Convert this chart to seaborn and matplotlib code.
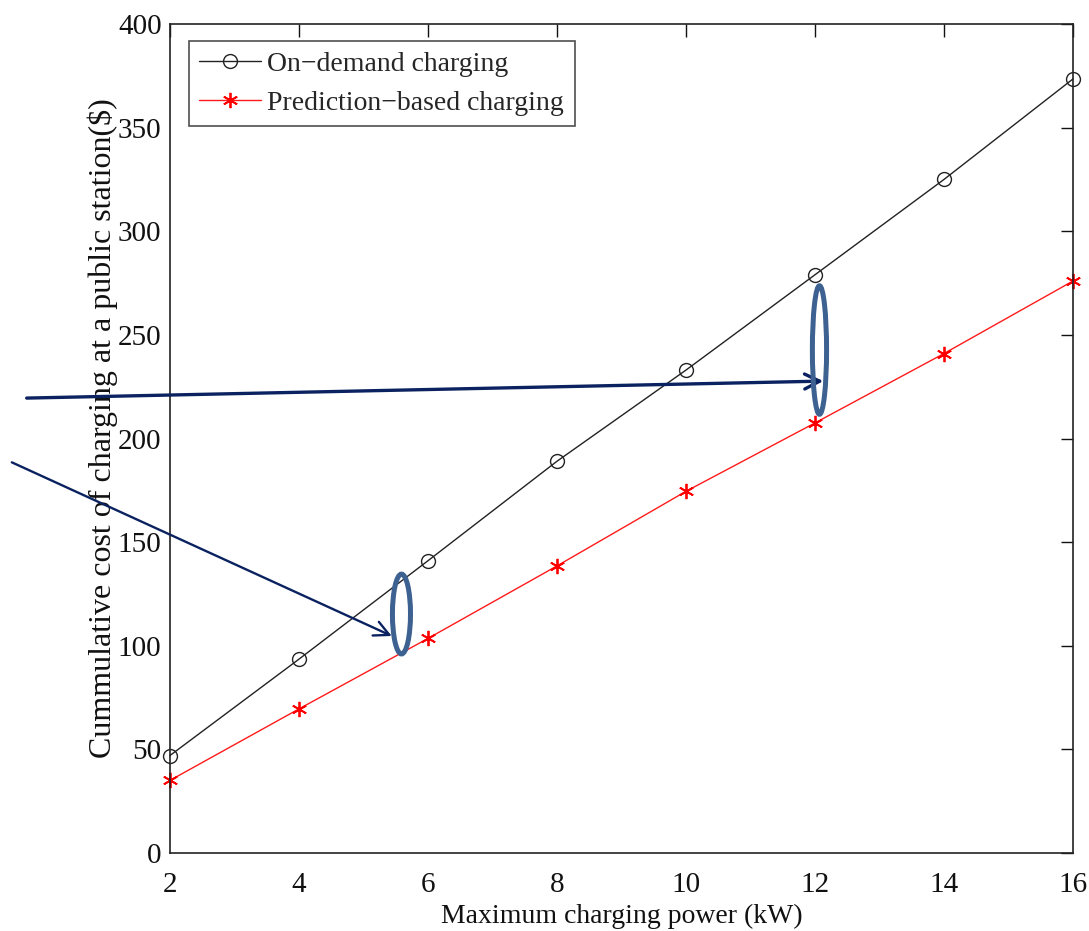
import matplotlib
matplotlib.use("Agg")
import matplotlib.pyplot as plt
import seaborn as sns
import pandas as pd
from matplotlib.patches import Ellipse

power_kw = [2, 4, 6, 8, 10, 12, 14, 16]
on_demand = [47, 93.5, 141, 189, 233, 279, 325, 373.5]
prediction = [35, 69.5, 103.5, 138.5, 174.5, 207.5, 241, 276]
series_names = ["On\u2212demand charging", "Prediction\u2212based charging"]
x_ticks = [2, 4, 6, 8, 10, 12, 14, 16]
y_ticks = [0, 50, 100, 150, 200, 250, 300, 350, 400]

sns.set_theme(style="white")
plt.rcParams['font.family'] = ['Liberation Serif', 'DejaVu Serif']
plt.rcParams['mathtext.fontset'] = 'stix'

fig = plt.figure(figsize=(10.89, 9.31), dpi=100)
ax = fig.add_axes([0.156, 0.0838, 0.8293, 0.8904])

df1 = pd.DataFrame({"x": power_kw, "y": on_demand})
df2 = pd.DataFrame({"x": power_kw, "y": prediction})

sns.lineplot(data=df1, x="x", y="y", ax=ax, color="#222222", linewidth=1.0,
             marker="o", markersize=10, markerfacecolor="none",
             markeredgecolor="#222222", markeredgewidth=1.0,
             label=series_names[0], clip_on=False)
sns.lineplot(data=df2, x="x", y="y", ax=ax, color="#ff1a1a", linewidth=1.0,
             marker=(6, 2, 0), markersize=11, markeredgecolor="#ff0000",
             markeredgewidth=1.3, label=series_names[1], clip_on=False)

ax.set_xlim(2, 16)
ax.set_ylim(0, 400)
ax.set_xticks(x_ticks)
ax.set_yticks(y_ticks)
ax.tick_params(direction="in", length=9, width=1.0, top=True, right=True,
               labelsize=21, colors="#111111", pad=6)
ax.tick_params(axis="x", pad=14)
for s in ax.spines.values():
    s.set_color("#222222")
    s.set_linewidth(1.2)
ax.grid(False)

ax.set_xlabel("Maximum charging power (kW)", fontsize=20, labelpad=4, color="#111111")
ax.set_ylabel("Cummulative cost of charging at a public station($)", fontsize=23,
              labelpad=2, color="#111111")
ax.yaxis.set_label_coords(-0.058, 0.512)

leg = ax.legend(loc="upper left", fontsize=20, frameon=True, fancybox=False,
                edgecolor="#222222", borderpad=0.38, handlelength=2.2,
                handletextpad=0.25, labelspacing=0.5,
                bbox_to_anchor=(0.021, 0.98), borderaxespad=0.0)
leg.get_frame().set_linewidth(1.2)

# annotations
navy = "#0b2261"
ax.annotate("", xy=(12.13, 227.7), xytext=(-0.22, 219.5),
            xycoords="data", textcoords="data", annotation_clip=False,
            arrowprops=dict(arrowstyle="->,head_length=0.9,head_width=0.45",
                            color=navy, lw=2.4, shrinkA=0, shrinkB=0))
ax.annotate("", xy=(5.44, 104.7), xytext=(-0.45, 188.5),
            xycoords="data", textcoords="data", annotation_clip=False,
            arrowprops=dict(arrowstyle="->,head_length=0.9,head_width=0.45",
                            color=navy, lw=1.7, shrinkA=0, shrinkB=0))

ell_color = "#3d6190"
ax.add_patch(Ellipse((12.07, 242.7), width=0.22, height=62, fill=False,
                     edgecolor=ell_color, linewidth=3.6, clip_on=False, zorder=5))
ax.add_patch(Ellipse((5.59, 115.3), width=0.28, height=38.5, fill=False,
                     edgecolor=ell_color, linewidth=3.6, clip_on=False, zorder=5))

fig.savefig("out.png", dpi=100)
